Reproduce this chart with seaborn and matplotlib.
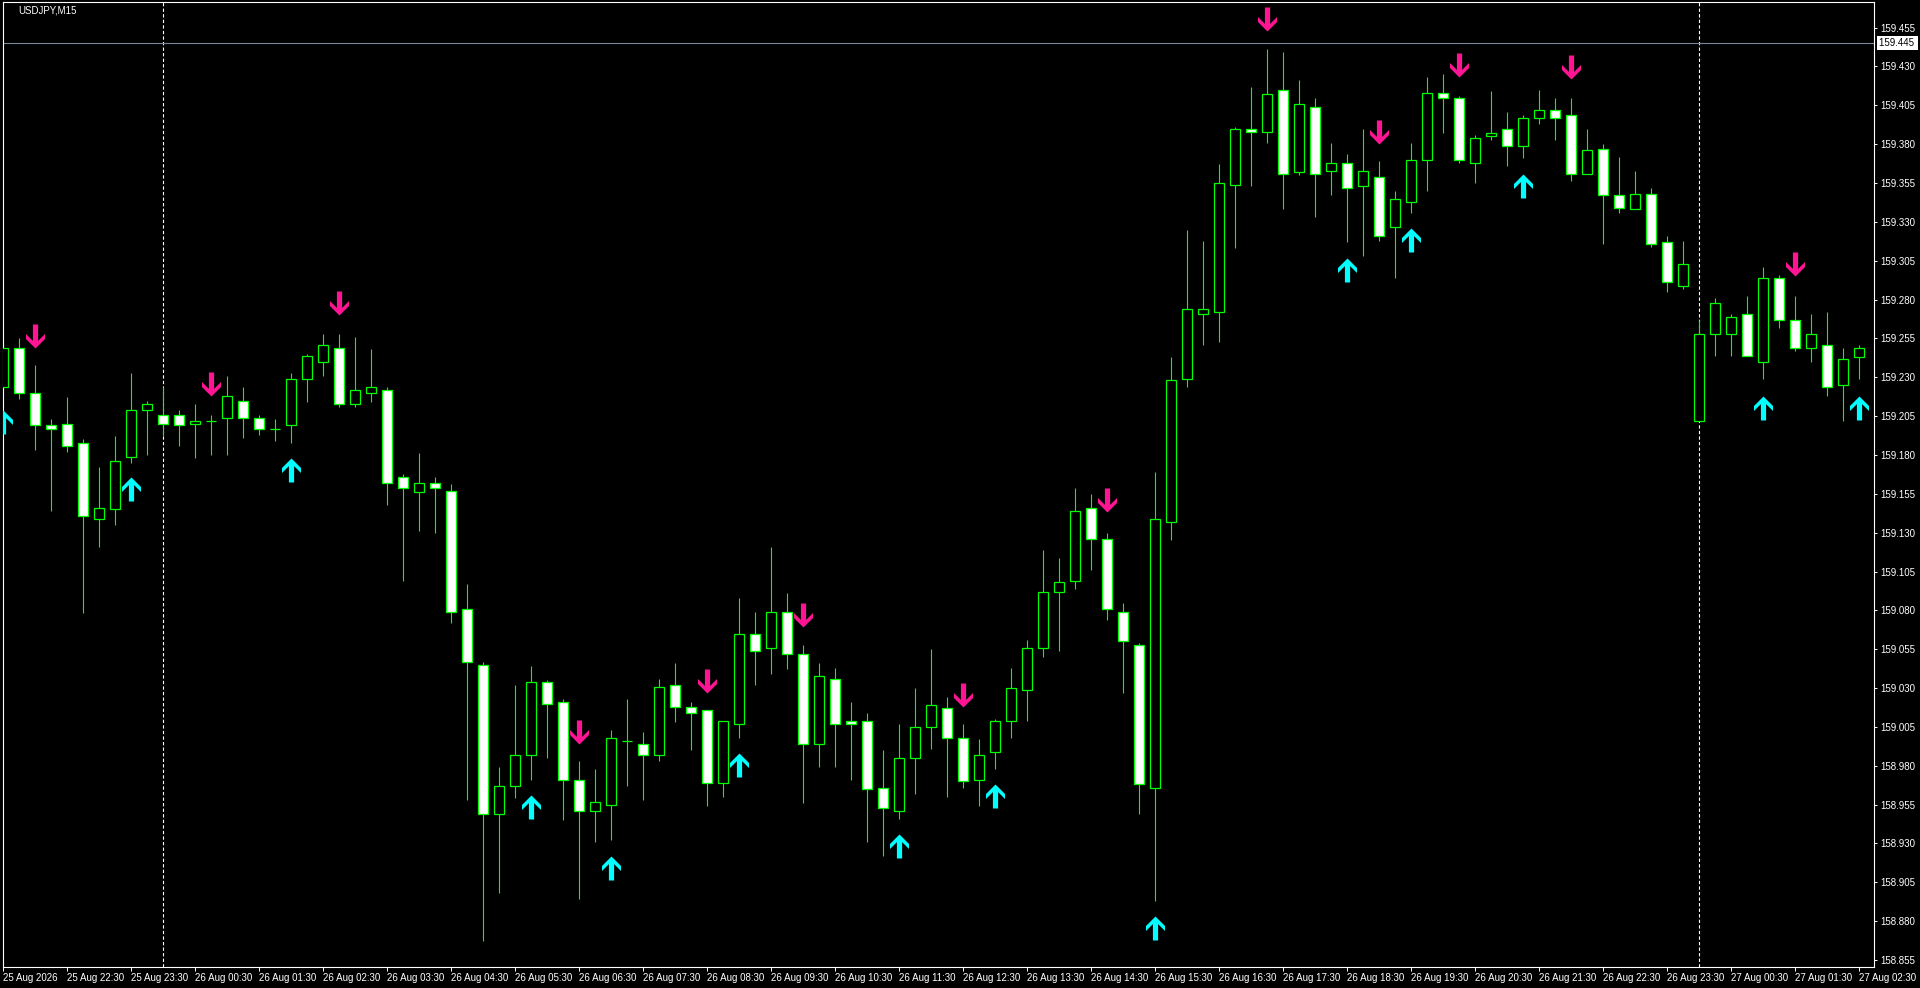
"""
USDJPY M15: свечи в стиле MT4 (зелёное на чёрном) со стрелками сигналов.
"""
import numpy as np
import pandas as pd
import matplotlib
matplotlib.use("Agg")
import matplotlib.pyplot as plt
import matplotlib.transforms as mtransforms
from matplotlib.path import Path
import seaborn as sns

# ──────────────────────────────────────────────
# Данные
# ──────────────────────────────────────────────
SYMBOL = "USDJPY,M15"

open_ = [159.224, 159.249, 159.220, 159.199, 159.200, 159.188, 159.139, 159.145, 159.179, 159.209,
         159.206, 159.206, 159.200, 159.202, 159.204, 159.215, 159.204, 159.197, 159.199, 159.229,
         159.240, 159.249, 159.213, 159.220, 159.222, 159.166, 159.156, 159.162, 159.157, 159.081,
         159.045, 158.949, 158.967, 158.987, 159.034, 159.021, 158.971, 158.951, 158.955, 158.996,
         158.994, 158.987, 159.032, 159.018, 159.016, 158.969, 159.007, 159.065, 159.056, 159.079,
         159.052, 158.994, 159.036, 159.009, 159.009, 158.966, 158.951, 158.985, 159.005, 159.017,
         158.998, 158.971, 158.989, 159.009, 159.029, 159.056, 159.092, 159.099, 159.146, 159.126,
         159.079, 159.058, 158.966, 159.137, 159.229, 159.271, 159.272, 159.354, 159.390, 159.388,
         159.415, 159.362, 159.404, 159.363, 159.368, 159.353, 159.359, 159.327, 159.343, 159.370,
         159.413, 159.410, 159.368, 159.385, 159.390, 159.379, 159.397, 159.402, 159.399, 159.361,
         159.377, 159.347, 159.338, 159.348, 159.317, 159.289, 159.202, 159.258, 159.258, 159.271,
         159.240, 159.294, 159.267, 159.249, 159.251, 159.225, 159.243]
high = [159.252, 159.255, 159.238, 159.203, 159.217, 159.190, 159.172, 159.192, 159.233, 159.215,
        159.224, 159.209, 159.213, 159.206, 159.231, 159.224, 159.206, 159.203, 159.233, 159.245,
        159.258, 159.258, 159.256, 159.248, 159.224, 159.168, 159.181, 159.166, 159.161, 159.097,
        159.047, 158.979, 159.032, 159.044, 159.035, 159.023, 158.983, 158.978, 159.003, 159.023,
        159.002, 159.036, 159.046, 159.021, 159.016, 159.009, 159.088, 159.079, 159.121, 159.091,
        159.058, 159.046, 159.043, 159.021, 159.014, 158.990, 159.007, 159.030, 159.055, 159.024,
        159.007, 158.997, 159.010, 159.043, 159.061, 159.119, 159.114, 159.159, 159.155, 159.130,
        159.085, 159.059, 159.169, 159.243, 159.325, 159.318, 159.367, 159.391, 159.417, 159.441,
        159.439, 159.421, 159.410, 159.381, 159.374, 159.390, 159.369, 159.350, 159.381, 159.423,
        159.425, 159.411, 159.386, 159.414, 159.401, 159.399, 159.415, 159.410, 159.410, 159.390,
        159.380, 159.372, 159.363, 159.352, 159.321, 159.318, 159.267, 159.281, 159.271, 159.282,
        159.301, 159.296, 159.282, 159.271, 159.272, 159.249, 159.251]
low = [159.221, 159.216, 159.183, 159.144, 159.182, 159.078, 159.121, 159.135, 159.175, 159.180,
       159.192, 159.186, 159.178, 159.180, 159.180, 159.191, 159.193, 159.189, 159.188, 159.214,
       159.231, 159.211, 159.211, 159.214, 159.148, 159.099, 159.131, 159.130, 159.072, 158.958,
       158.867, 158.898, 158.959, 158.971, 158.985, 158.945, 158.894, 158.931, 158.932, 158.967,
       158.958, 158.983, 159.008, 158.990, 158.954, 158.960, 158.998, 159.032, 159.039, 159.042,
       158.956, 158.979, 158.979, 158.971, 158.931, 158.922, 158.946, 158.962, 158.991, 158.960,
       158.966, 158.954, 158.978, 158.998, 159.009, 159.050, 159.054, 159.094, 159.106, 159.074,
       159.027, 158.949, 158.893, 159.125, 159.224, 159.251, 159.253, 159.313, 159.353, 159.381,
       159.338, 159.360, 159.333, 159.347, 159.317, 159.308, 159.318, 159.294, 159.336, 159.350,
       159.387, 159.368, 159.355, 159.383, 159.366, 159.371, 159.393, 159.383, 159.356, 159.361,
       159.316, 159.336, 159.338, 159.314, 159.285, 159.287, 159.202, 159.244, 159.244, 159.244,
       159.229, 159.262, 159.247, 159.240, 159.218, 159.202, 159.229]
close = [159.249, 159.220, 159.199, 159.197, 159.186, 159.141, 159.146, 159.176, 159.209, 159.213,
         159.200, 159.199, 159.202, 159.202, 159.218, 159.204, 159.197, 159.197, 159.229, 159.244,
         159.251, 159.213, 159.222, 159.224, 159.162, 159.159, 159.162, 159.159, 159.079, 159.047,
         158.949, 158.967, 158.987, 159.034, 159.020, 158.971, 158.951, 158.957, 158.998, 158.996,
         158.987, 159.031, 159.018, 159.014, 158.969, 159.009, 159.065, 159.054, 159.079, 159.052,
         158.994, 159.038, 159.007, 159.007, 158.965, 158.953, 158.985, 159.005, 159.019, 158.998,
         158.970, 158.987, 159.009, 159.030, 159.056, 159.092, 159.098, 159.144, 159.126, 159.081,
         159.060, 158.968, 159.139, 159.228, 159.274, 159.274, 159.355, 159.390, 159.388, 159.412,
         159.361, 159.406, 159.361, 159.368, 159.352, 159.363, 159.321, 159.345, 159.370, 159.413,
         159.410, 159.370, 159.384, 159.387, 159.379, 159.397, 159.402, 159.397, 159.361, 159.376,
         159.347, 159.339, 159.348, 159.316, 159.291, 159.303, 159.258, 159.278, 159.269, 159.244,
         159.294, 159.267, 159.249, 159.258, 159.224, 159.242, 159.249]

# стрелки сигналов: номер свечи и цена острия
up_idx = [0, 8, 18, 33, 38, 46, 56, 62, 72, 84, 88, 95, 110, 116]
up_price = [159.209, 159.166, 159.178, 158.961, 158.922, 158.988, 158.936,
            158.968, 158.883, 159.307, 159.326, 159.361, 159.218, 159.218]
dn_idx = [2, 13, 21, 36, 44, 50, 60, 69, 79, 86, 91, 98, 112]
dn_price = [159.249, 159.218, 159.270, 158.994, 159.027, 159.069, 159.018,
            159.143, 159.453, 159.380, 159.423, 159.422, 159.295]

x_tick_labels = [
    "25 Aug 2026", "25 Aug 22:30", "25 Aug 23:30",
    "26 Aug 00:30", "26 Aug 01:30", "26 Aug 02:30", "26 Aug 03:30", "26 Aug 04:30",
    "26 Aug 05:30", "26 Aug 06:30", "26 Aug 07:30", "26 Aug 08:30", "26 Aug 09:30",
    "26 Aug 10:30", "26 Aug 11:30", "26 Aug 12:30", "26 Aug 13:30", "26 Aug 14:30",
    "26 Aug 15:30", "26 Aug 16:30", "26 Aug 17:30", "26 Aug 18:30", "26 Aug 19:30",
    "26 Aug 20:30", "26 Aug 21:30", "26 Aug 22:30", "26 Aug 23:30",
    "27 Aug 00:30", "27 Aug 01:30", "27 Aug 02:30",
]
separator_idx = [10, 106]   # начало суток
price_line = 159.445

# ──────────────────────────────────────────────
# Стиль
# ──────────────────────────────────────────────
LIME = "#00ff00"
CYAN = "#00ffff"
PINK = "#ff1493"
SLATE = "#778899"
FS = 7.0

sns.set_style("dark", {"axes.facecolor": "black", "figure.facecolor": "black",
                       "axes.edgecolor": "white", "axes.grid": False})
plt.rcParams["font.family"] = ["Liberation Sans", "DejaVu Sans"]


def arrow_path(direction):
    """Толстая стрелка MT4, острие в (0, 0)."""
    pts = [(0, 0), (9.5, -9.5), (9.5, -14.5), (2.6, -7.6), (2.6, -24),
           (-2.6, -24), (-2.6, -7.6), (-9.5, -14.5), (-9.5, -9.5), (0, 0)]
    pts = np.array(pts, dtype=float)
    if direction == "down":
        pts[:, 1] *= -1
    codes = [Path.MOVETO] + [Path.LINETO] * (len(pts) - 2) + [Path.CLOSEPOLY]
    return Path(pts, codes)


ARROW_S = (48 * 0.72) ** 2   # высота ~24 px

# ──────────────────────────────────────────────
# График
# ──────────────────────────────────────────────
df = pd.DataFrame({"o": open_, "h": high, "l": low, "c": close})
df["i"] = np.arange(len(df))
df["bull"] = df["c"] >= df["o"]
df["bottom"] = df[["o", "c"]].min(axis=1)
df["height"] = (df["c"] - df["o"]).abs()

fig = plt.figure(figsize=(19.2, 9.88), dpi=100)
ax = fig.add_axes([2.7 / 1920, 21 / 988, (1874.3 - 2.7) / 1920, (967 - 2.3) / 988])
ax.set_facecolor("black")

ax.vlines(df["i"], df["l"], df["h"], color=LIME, linewidth=0.8, zorder=2)
ax.bar(df["i"], df["height"], bottom=df["bottom"], width=0.62,
       color=np.where(df["bull"], "black", "white"), edgecolor=LIME,
       linewidth=0.9, zorder=3)

sns.scatterplot(x=up_idx, y=up_price, marker=arrow_path("up"), s=ARROW_S,
                color=CYAN, edgecolor=CYAN, linewidth=0, ax=ax, zorder=5, legend=False)
sns.scatterplot(x=dn_idx, y=dn_price, marker=arrow_path("down"), s=ARROW_S,
                color=PINK, edgecolor=PINK, linewidth=0, ax=ax, zorder=5, legend=False)

for sx in separator_idx:
    ax.axvline(sx, color="white", linewidth=0.8, linestyle=(0, (3, 2)), zorder=1)
ax.axhline(price_line, color=SLATE, linewidth=0.8, zorder=1)

ax.set_xlim(-0.0375, 116.94)
ax.set_ylim(158.8505, 159.4713)

# ось цен справа
yticks = np.round(np.arange(158.855, 159.4551, 0.025), 3)
ax.set_yticks(yticks)
ax.set_yticklabels([f"{v:.3f}" for v in yticks])
ax.yaxis.tick_right()
ax.tick_params(axis="y", which="major", direction="out", length=2.4, width=0.7,
               color="white", pad=2.2, labelsize=FS, labelcolor="white",
               right=True, left=False, labelright=True, labelleft=False)

# ось времени
ax.set_xticks(np.arange(0, len(df), 4))
ax.set_xticklabels(x_tick_labels, ha="left")
ax.tick_params(axis="x", which="major", direction="out", length=3, width=0.7,
               color="white", pad=1.2, labelsize=FS, labelcolor="white",
               bottom=True, top=False)

for s in ax.spines.values():
    s.set_color("white")
    s.set_linewidth(0.8)
    s.set_visible(True)

# метка текущей цены
trans = mtransforms.blended_transform_factory(ax.transAxes, ax.transData)
ax.text(1.0 + 4.5 / 1871.6, price_line, f"{price_line:.3f} ", transform=trans,
        ha="left", va="center", color="black", fontsize=FS, zorder=6, clip_on=False,
        bbox=dict(facecolor="white", edgecolor="none", pad=1.3))

fig.text(18 / 1920, 1 - 10.5 / 988, SYMBOL, color="white", fontsize=FS,
         ha="left", va="center")

fig.savefig("out.png", dpi=100, facecolor="black")
plt.close(fig)
